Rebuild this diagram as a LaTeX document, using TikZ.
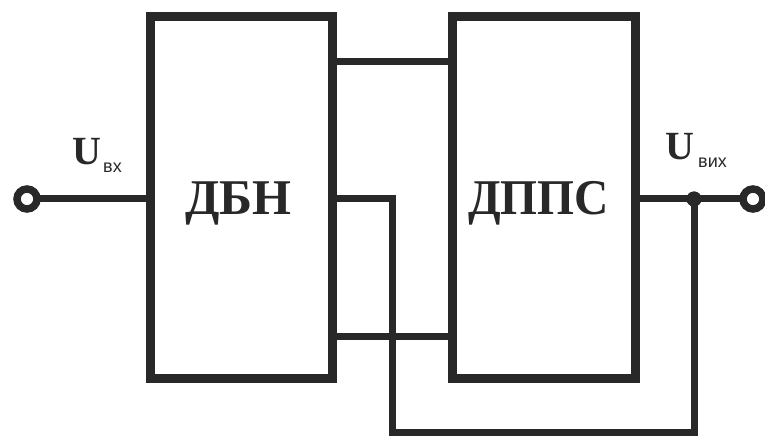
\documentclass[tikz,border=0pt]{standalone}
\usepackage{fontspec}
\usetikzlibrary{calc}
\newfontfamily\blkfont{Liberation Serif}
\newfontfamily\subfont{Liberation Sans}
\definecolor{ink}{RGB}{40,40,40}
\tikzset{
  blockbox/.style={draw=ink, line width=9pt, inner sep=0pt, outer sep=0pt, fill=white},
  wire/.style={draw=ink, line width=7pt, line join=miter},
  term/.style={circle, draw=ink, line width=7.5pt, fill=white, minimum size=20pt, inner sep=0pt, outer sep=0pt},
  junc/.style={circle, fill=ink, minimum size=15pt, inner sep=0pt},
  blocktext/.style={font=\blkfont\bfseries\fontsize{50}{50}\selectfont, text=ink, inner sep=0pt},
  ulabel/.style={font=\blkfont\bfseries\fontsize{40}{40}\selectfont, text=ink, inner sep=0pt},
  sublabel/.style={font=\subfont\fontsize{18}{18}\selectfont, text=ink, inner sep=0pt}
}
\begin{document}
\begin{tikzpicture}[x=1pt,y=-1pt]
\useasboundingbox (0,0) rectangle (765,438);
% blocks
\node[blockbox, minimum width=182pt, minimum height=361pt] (b1) at (241,197.5) {};
\node[blockbox, minimum width=183pt, minimum height=361pt] (b2) at (543.5,197.5) {};
% terminals and junction
\node[term] (in) at (27,199) {};
\node[term] (out) at (753,199) {};
\node[junc] (j) at (694,199) {};
\coordinate (k1) at (392,199);
\coordinate (k2) at (392,432);
\coordinate (k3) at (694,432);
% connectors
\draw[wire] (in.east) -- ($(b1.west)+(0,1.5)$);
\draw[wire] ($(b1.north east)+(0,45)$) -- ($(b2.north west)+(0,45)$);
\draw[wire] ($(b1.south east)+(0,-42)$) -- ($(b2.south west)+(0,-42)$);
\draw[wire] ($(b1.east)+(0,1.5)$) -- (k1) -- (k2) -- (k3) -- (j.center);
\draw[wire] ($(b2.east)+(0,1.5)$) -- (out.west);
\node[junc] at (j) {};
% texts
\node[blocktext, anchor=base] (t1) at (238.5,215) {ДБН};
\node[blocktext, anchor=base, xscale=0.95] (t2) at (538.5,215) {ДППС};
\node[ulabel, anchor=base] (u1) at (87,165) {U};
\node[sublabel, anchor=base west] (s1) at (103,173) {вх};
\node[ulabel, anchor=base] (u2) at (680,160) {U};
\node[sublabel, anchor=base west] (s2) at (698,168) {вих};
\end{tikzpicture}
\end{document}
